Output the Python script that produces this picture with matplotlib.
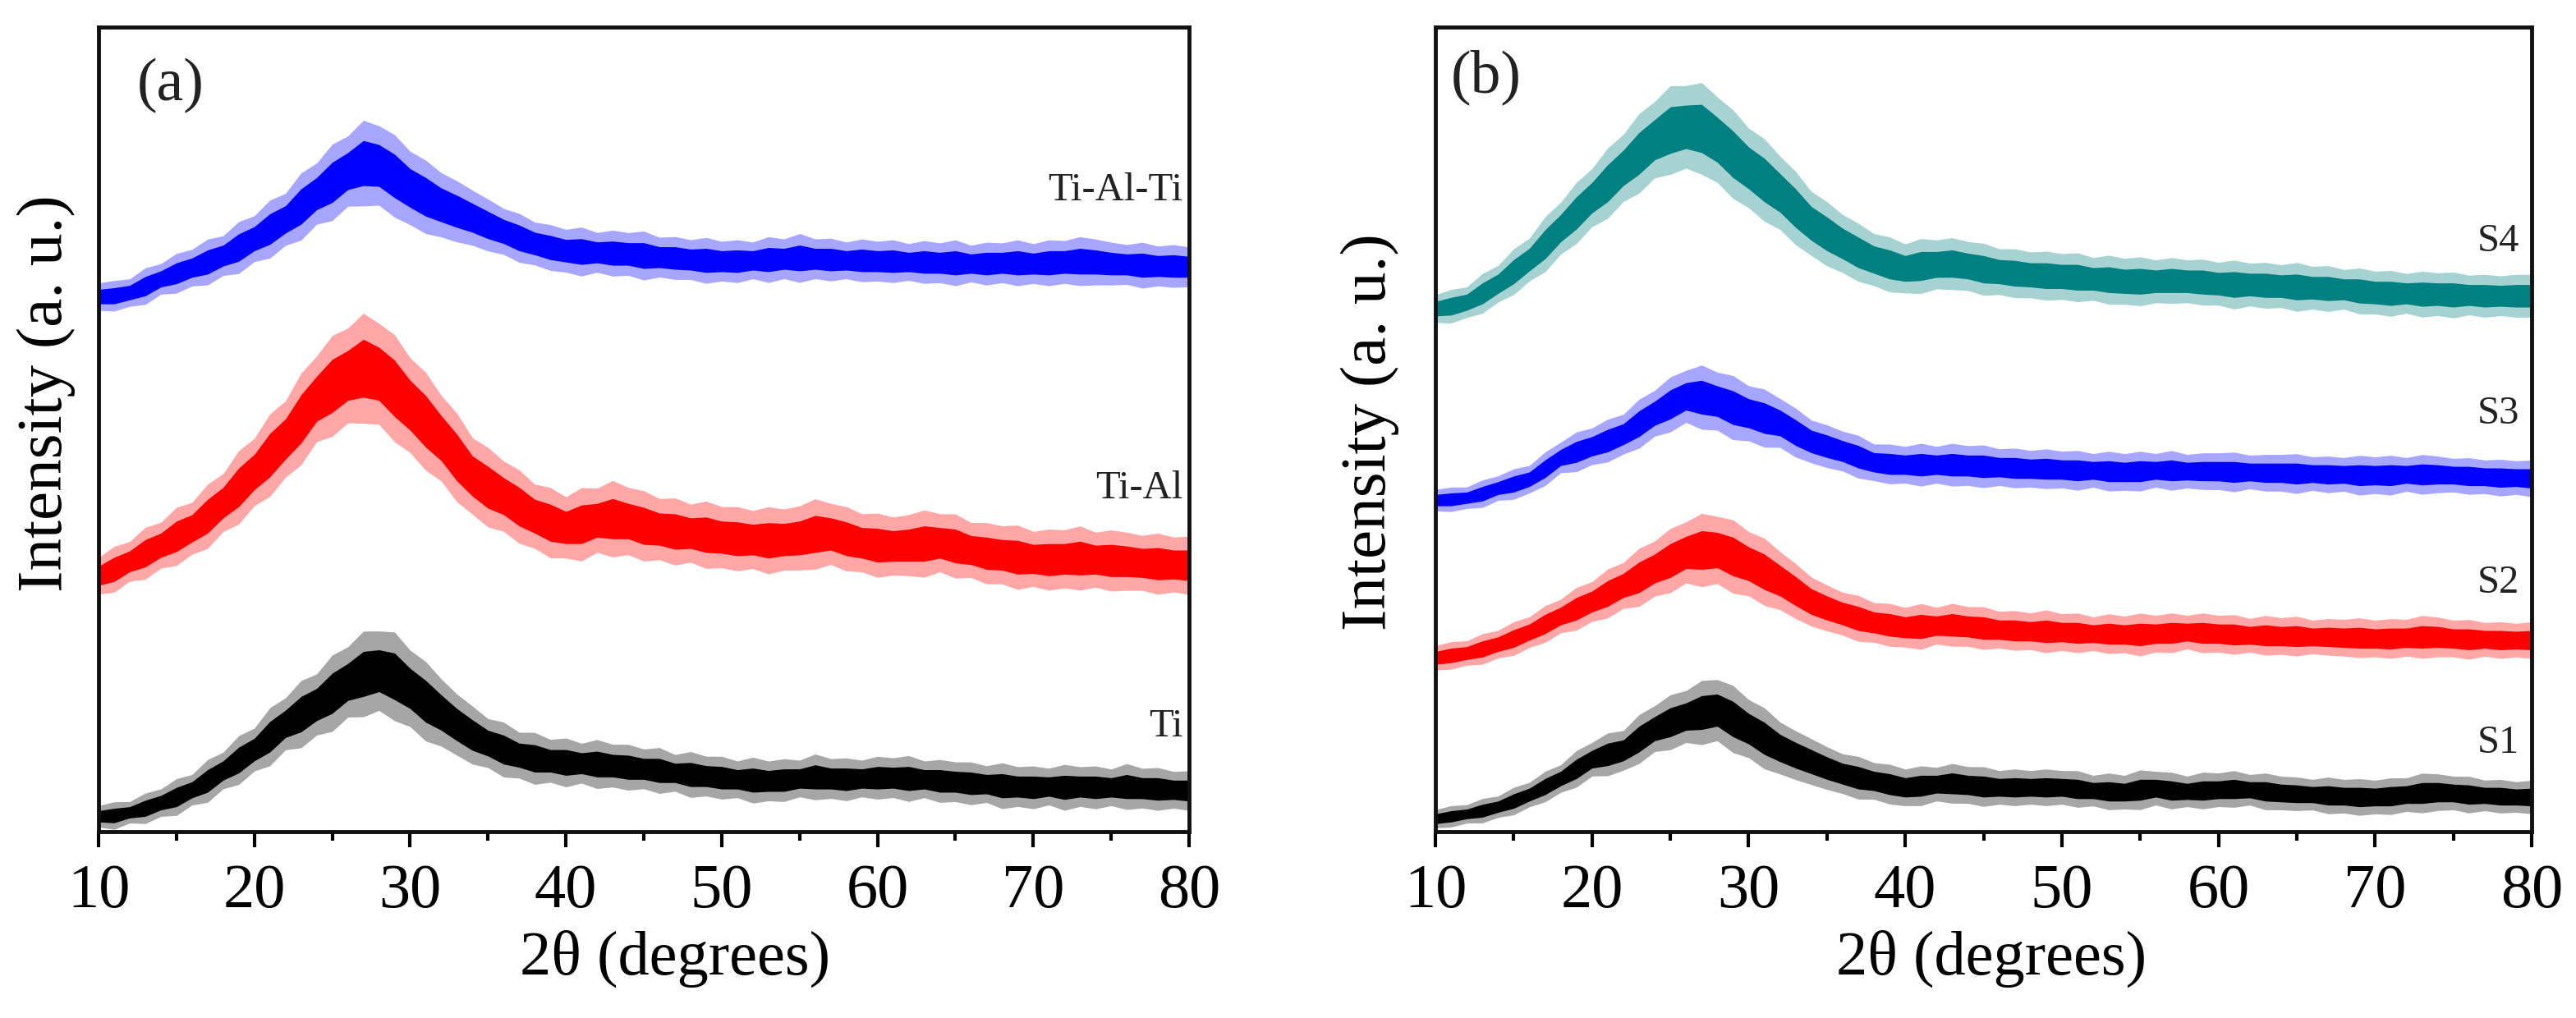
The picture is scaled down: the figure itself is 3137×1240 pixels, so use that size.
import numpy as np
import matplotlib
matplotlib.use("Agg")
import matplotlib.pyplot as plt
from matplotlib.ticker import MultipleLocator

plt.rcParams['font.family'] = ['Liberation Serif', 'DejaVu Serif']

# 2-theta sampling (degrees), one value per degree
two_theta = np.arange(10, 81, 1)

# ---- panel (a) ----  mid = centre of the noisy trace, spread = half thickness
ti_mid = [1.9, 2.0, 2.4, 2.9, 3.6, 4.3, 5.2, 6.3, 7.6, 8.9,
          10.2, 11.8, 13.4, 14.6, 15.8, 17.2, 18.6, 19.6, 20.0, 19.3,
          17.8, 16.2, 14.8, 13.3, 12.0, 11.0, 10.2, 9.5, 9.1, 8.8,
          8.6, 8.5, 8.4, 8.2, 8.0, 7.8, 7.6, 7.3, 7.1, 6.9,
          6.7, 6.5, 6.4, 6.3, 6.4, 6.6, 6.8, 6.6, 6.5, 6.6,
          6.7, 6.7, 6.6, 6.5, 6.3, 6.2, 6.0, 5.9, 5.7, 5.6,
          5.5, 5.6, 5.5, 5.6, 5.5, 5.5, 5.6, 5.4, 5.3, 5.2, 5.1]
ti_spread = [0.7, 0.9, 0.7, 1.0, 0.9, 1.2, 1.0, 1.4, 1.2, 1.6,
             1.4, 1.9, 1.7, 2.2, 2.0, 2.5, 2.3, 2.8, 2.6, 2.9,
             2.5, 2.6, 2.2, 2.0, 1.9, 1.6, 1.8, 1.5, 1.7, 1.4,
             1.6, 1.3, 1.6, 1.4, 1.5, 1.3, 1.5, 1.2, 1.5, 1.3,
             1.4, 1.2, 1.5, 1.3, 1.4, 1.2, 1.5, 1.3, 1.4, 1.2,
             1.4, 1.3, 1.5, 1.2, 1.4, 1.3, 1.4, 1.2, 1.5, 1.3,
             1.4, 1.2, 1.5, 1.3, 1.4, 1.2, 1.5, 1.3, 1.4, 1.2, 1.3]

tial_mid = [31.8, 32.6, 33.6, 34.6, 35.6, 36.7, 37.7, 39.2, 40.9, 42.8,
            44.7, 46.8, 48.8, 51.3, 53.8, 55.4, 56.7, 57.6, 56.9, 55.1,
            53.0, 51.0, 48.9, 46.5, 44.2, 42.8, 41.7, 40.4, 39.2, 38.4,
            37.8, 38.2, 38.7, 38.9, 38.6, 38.0, 37.6, 37.3, 37.1, 36.9,
            36.6, 36.4, 36.3, 36.2, 36.3, 36.5, 37.0, 37.0, 36.4, 35.9,
            35.6, 35.5, 35.6, 35.8, 35.9, 35.5, 35.0, 34.6, 34.4, 34.1,
            33.9, 33.8, 33.9, 34.0, 33.8, 33.7, 33.6, 33.4, 33.3, 33.2, 33.1]
tial_spread = [1.2, 1.5, 1.3, 1.7, 1.5, 1.9, 1.7, 2.1, 1.9, 2.4,
               2.2, 2.7, 2.5, 3.0, 2.8, 3.3, 3.1, 3.6, 3.3, 3.5,
               3.1, 3.2, 2.8, 2.9, 2.5, 2.6, 2.3, 2.4, 2.1, 2.3,
               2.0, 2.4, 2.1, 2.5, 2.2, 2.3, 2.0, 2.2, 1.9, 2.2,
               2.0, 2.1, 1.9, 2.2, 2.0, 2.1, 2.3, 2.0, 2.1, 1.9,
               2.1, 1.9, 2.0, 2.2, 1.9, 2.1, 1.8, 2.0, 1.9, 2.1,
               1.8, 2.0, 1.9, 2.1, 1.8, 2.0, 1.9, 1.8, 2.0, 1.8, 1.9]

tialti_mid = [66.5, 66.6, 67.0, 67.8, 68.7, 69.4, 70.1, 70.8, 71.6, 72.6,
              73.7, 74.9, 76.1, 77.7, 79.3, 80.7, 82.1, 83.1, 82.8, 81.5,
              80.0, 78.9, 77.9, 77.1, 76.3, 75.4, 74.6, 73.8, 73.1, 72.6,
              72.2, 72.1, 72.0, 71.9, 71.8, 71.6, 71.4, 71.3, 71.1, 71.0,
              70.9, 70.9, 71.0, 71.1, 71.2, 71.3, 71.2, 71.1, 71.0, 71.0,
              70.9, 70.9, 70.8, 70.8, 70.7, 70.7, 70.6, 70.6, 70.7, 70.7,
              70.6, 70.7, 70.8, 70.9, 70.8, 70.6, 70.5, 70.4, 70.3, 70.3, 70.2]
tialti_spread = [0.9, 1.0, 0.9, 1.2, 1.0, 1.3, 1.2, 1.5, 1.3, 1.7,
                 1.5, 1.9, 1.7, 2.2, 2.0, 2.5, 2.3, 2.8, 2.6, 2.7,
                 2.4, 2.4, 2.1, 2.0, 1.8, 1.7, 1.5, 1.6, 1.4, 1.5,
                 1.4, 1.6, 1.3, 1.5, 1.4, 1.6, 1.3, 1.4, 1.3, 1.5,
                 1.3, 1.4, 1.2, 1.5, 1.3, 1.6, 1.3, 1.4, 1.2, 1.4,
                 1.3, 1.4, 1.2, 1.4, 1.3, 1.5, 1.2, 1.4, 1.3, 1.5,
                 1.3, 1.5, 1.4, 1.6, 1.5, 1.4, 1.3, 1.5, 1.3, 1.4, 1.3]

# ---- panel (b) ----
s1_mid = [1.6, 1.9, 2.2, 2.6, 3.1, 3.8, 4.6, 5.6, 6.6, 7.8,
          9.0, 9.6, 10.1, 11.5, 12.8, 13.6, 14.3, 14.8, 15.1, 14.0,
          12.8, 11.6, 10.4, 9.5, 8.7, 7.9, 7.2, 6.7, 6.3, 5.9,
          5.5, 5.7, 5.9, 6.0, 5.8, 5.6, 5.5, 5.5, 5.5, 5.5,
          5.5, 5.3, 5.1, 5.0, 4.9, 5.2, 5.4, 5.1, 5.0, 5.1,
          5.2, 5.3, 5.2, 5.0, 4.8, 4.7, 4.6, 4.5, 4.4, 4.3,
          4.3, 4.4, 4.6, 4.8, 4.9, 4.8, 4.6, 4.5, 4.4, 4.3, 4.3]
s1_spread = [0.6, 0.7, 0.6, 0.8, 0.7, 0.9, 0.8, 1.0, 0.9, 1.2,
             1.1, 1.4, 1.3, 1.6, 1.5, 1.8, 1.7, 2.1, 2.0, 2.2,
             1.9, 2.0, 1.7, 1.6, 1.5, 1.4, 1.3, 1.4, 1.2, 1.3,
             1.2, 1.3, 1.1, 1.3, 1.2, 1.3, 1.1, 1.2, 1.1, 1.2,
             1.1, 1.2, 1.0, 1.2, 1.1, 1.3, 1.1, 1.2, 1.0, 1.2,
             1.1, 1.2, 1.0, 1.2, 1.1, 1.1, 1.0, 1.2, 1.1, 1.2,
             1.1, 1.2, 1.1, 1.3, 1.2, 1.1, 1.2, 1.0, 1.1, 1.0, 1.1]

s2_mid = [21.6, 21.9, 22.2, 22.7, 23.3, 24.0, 24.8, 25.8, 26.8, 27.7,
          28.6, 29.6, 30.6, 31.6, 32.7, 33.7, 34.7, 35.0, 35.0, 34.2,
          33.3, 32.3, 31.2, 29.9, 28.6, 27.8, 27.1, 26.5, 26.0, 25.7,
          25.4, 25.5, 25.6, 25.7, 25.5, 25.3, 25.1, 25.0, 24.9, 24.9,
          24.8, 24.7, 24.6, 24.6, 24.5, 24.5, 24.6, 24.7, 24.8, 24.7,
          24.6, 24.5, 24.4, 24.4, 24.3, 24.3, 24.2, 24.2, 24.1, 24.1,
          24.0, 24.0, 24.1, 24.2, 24.2, 24.0, 23.9, 23.9, 23.8, 23.8, 23.8]
s2_spread = [0.8, 0.9, 0.8, 1.0, 0.9, 1.1, 1.0, 1.2, 1.1, 1.4,
             1.3, 1.6, 1.5, 1.9, 1.8, 2.1, 2.0, 2.4, 2.2, 2.4,
             2.1, 2.2, 1.9, 1.8, 1.6, 1.5, 1.4, 1.5, 1.3, 1.4,
             1.3, 1.5, 1.2, 1.4, 1.3, 1.4, 1.2, 1.3, 1.2, 1.4,
             1.2, 1.3, 1.1, 1.3, 1.2, 1.4, 1.2, 1.3, 1.1, 1.3,
             1.2, 1.3, 1.1, 1.3, 1.2, 1.3, 1.1, 1.2, 1.2, 1.3,
             1.2, 1.3, 1.2, 1.4, 1.3, 1.2, 1.3, 1.1, 1.2, 1.1, 1.2]

s3_mid = [41.2, 41.3, 41.5, 42.0, 42.7, 43.2, 43.8, 45.1, 46.5, 47.2,
          47.9, 48.6, 49.4, 50.7, 52.0, 53.1, 54.1, 54.0, 53.5, 52.7,
          52.0, 51.4, 50.8, 49.6, 48.5, 47.9, 47.3, 46.6, 45.9, 45.7,
          45.6, 45.6, 45.6, 45.6, 45.5, 45.4, 45.3, 45.2, 45.1, 45.1,
          45.0, 44.9, 44.9, 44.8, 44.7, 44.8, 44.9, 44.9, 44.8, 44.8,
          44.8, 44.7, 44.7, 44.6, 44.6, 44.5, 44.5, 44.4, 44.4, 44.3,
          44.3, 44.3, 44.4, 44.4, 44.4, 44.3, 44.2, 44.1, 44.0, 44.0, 43.9]
s3_spread = [0.7, 0.8, 0.7, 0.9, 0.8, 1.0, 0.9, 1.1, 1.0, 1.3,
             1.2, 1.4, 1.3, 1.6, 1.5, 1.8, 1.7, 2.1, 1.9, 2.1,
             1.8, 1.9, 1.6, 1.6, 1.4, 1.4, 1.3, 1.4, 1.2, 1.3,
             1.2, 1.4, 1.2, 1.4, 1.3, 1.4, 1.2, 1.3, 1.2, 1.3,
             1.2, 1.3, 1.1, 1.3, 1.2, 1.3, 1.1, 1.3, 1.1, 1.2,
             1.2, 1.3, 1.1, 1.2, 1.2, 1.3, 1.1, 1.2, 1.1, 1.3,
             1.2, 1.3, 1.1, 1.3, 1.2, 1.1, 1.2, 1.1, 1.2, 1.1, 1.2]

s4_mid = [65.0, 65.3, 65.8, 66.9, 68.1, 69.6, 71.1, 73.0, 75.0, 76.9,
          78.8, 80.6, 82.5, 84.3, 86.0, 87.2, 87.6, 87.4, 86.0, 84.2,
          82.5, 81.0, 79.4, 77.5, 75.6, 74.3, 73.1, 72.0, 71.1, 70.5,
          70.0, 70.3, 70.5, 70.6, 70.3, 69.9, 69.6, 69.4, 69.2, 69.1,
          69.0, 68.9, 68.7, 68.6, 68.4, 68.4, 68.4, 68.5, 68.4, 68.3,
          68.1, 68.0, 68.0, 67.9, 67.8, 67.7, 67.6, 67.5, 67.4, 67.2,
          67.0, 66.9, 66.9, 66.8, 66.8, 66.7, 66.7, 66.6, 66.6, 66.6, 66.6]
s4_spread = [0.9, 1.1, 1.0, 1.3, 1.2, 1.5, 1.4, 1.8, 1.7, 2.0,
             1.9, 2.3, 2.2, 2.6, 2.5, 2.9, 2.7, 3.0, 2.8, 2.9,
             2.6, 2.7, 2.4, 2.4, 2.1, 2.1, 1.9, 1.9, 1.7, 1.8,
             1.6, 1.8, 1.6, 1.7, 1.6, 1.7, 1.5, 1.6, 1.5, 1.6,
             1.5, 1.6, 1.4, 1.6, 1.5, 1.6, 1.4, 1.5, 1.4, 1.5,
             1.4, 1.6, 1.4, 1.5, 1.4, 1.6, 1.4, 1.5, 1.3, 1.5,
             1.4, 1.5, 1.3, 1.5, 1.4, 1.5, 1.3, 1.4, 1.3, 1.4, 1.4]

panel_a = [("Ti", ti_mid, ti_spread, "#000000", 13.1),
           ("Ti-Al", tial_mid, tial_spread, "#ff0000", 42.7),
           ("Ti-Al-Ti", tialti_mid, tialti_spread, "#0000ff", 79.7)]
panel_b = [("S1", s1_mid, s1_spread, "#000000", 11.0),
           ("S2", s2_mid, s2_spread, "#ff0000", 30.9),
           ("S3", s3_mid, s3_spread, "#0000ff", 51.9),
           ("S4", s4_mid, s4_spread, "#008080", 73.4)]

fig = plt.figure(figsize=(31.37, 12.4), dpi=100)
ax_a = fig.add_axes([0.03825, 0.18306, 0.42334, 0.79032])
ax_b = fig.add_axes([0.55722, 0.18306, 0.42557, 0.79032])


def draw_panel(ax, curves, tag, tag_xy, label_x, xlab_x, ylab_xy):
    for name, mid, spread, col, ylab in curves:
        mid = np.array(mid)
        spread = np.array(spread)
        # light halo for the spikes, solid core for the dense noise
        ax.fill_between(two_theta, mid - 1.9 * spread, mid + 1.9 * spread,
                        color=col, alpha=0.35, lw=0)
        ax.fill_between(two_theta, mid - spread, mid + spread,
                        color=col, lw=0)
        ax.plot(two_theta, mid, color=col, lw=1.5)
        ax.text(label_x, ylab, name, ha="right", va="center",
                fontsize=35, color="#222222")

    ax.set_xlim(10, 80)
    ax.set_ylim(0, 100)
    ax.xaxis.set_major_locator(MultipleLocator(10))
    ax.xaxis.set_minor_locator(MultipleLocator(5))
    ax.set_yticks([])
    ax.tick_params(axis="x", which="major", direction="out", length=14,
                   width=3, labelsize=55, pad=14, top=False)
    ax.tick_params(axis="x", which="minor", direction="out", length=8,
                   width=3, top=False)
    for sp in ax.spines.values():
        sp.set_linewidth(3.5)
        sp.set_color("#111111")

    ax.set_xlabel("2\u03b8 (degrees)", fontsize=55, va="center")
    ax.xaxis.set_label_coords(xlab_x, -0.158)
    ax.set_ylabel("Intensity (a. u.)", fontsize=57, va="center", ha="center")
    ax.yaxis.set_label_coords(*ylab_xy)
    ax.text(tag_xy[0], tag_xy[1], tag, ha="center", va="center",
            fontsize=53, color="#222222")


draw_panel(ax_a, panel_a, "(a)", (14.6, 92.7), 79.6, 0.529, (-0.048, 0.545))
draw_panel(ax_b, panel_b, "(b)", (13.25, 93.7), 79.2, 0.507, (-0.060, 0.497))

fig.savefig("out.png", dpi=100)
